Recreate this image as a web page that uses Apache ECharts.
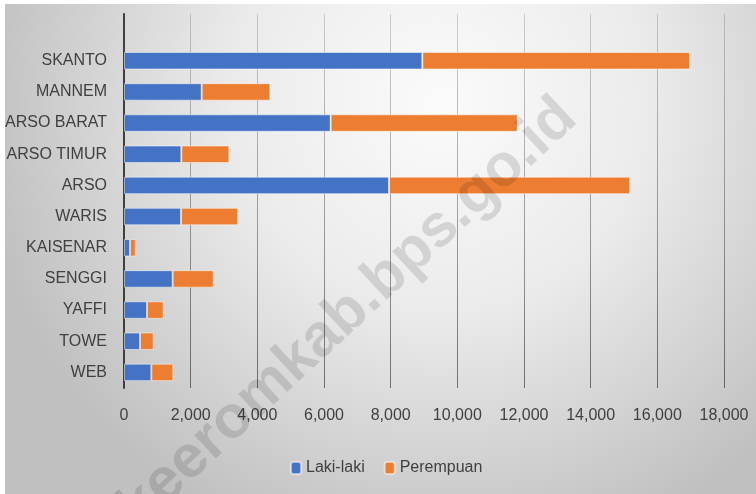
<!DOCTYPE html>
<html><head><meta charset="utf-8">
<script src="https://cdn.jsdelivr.net/npm/echarts@6/dist/echarts.min.js"></script>
<style>html,body{margin:0;padding:0;background:#fff}#c{width:756px;height:494px}</style>
</head><body><div id="c"></div>
<script>
// Categories, top to bottom as shown
const categories = ["SKANTO","MANNEM","ARSO BARAT","ARSO TIMUR","ARSO","WARIS","KAISENAR","SENGGI","YAFFI","TOWE","WEB"];
const lakiLaki  = [8950, 2330, 6200, 1720, 7950, 1710, 180, 1460, 690, 480, 820];
const perempuan = [8030, 2060, 5610, 1440, 7230, 1710, 170, 1230, 500, 410, 660];
const xTicks = {min:0, max:18000, interval:2000};

const chart = echarts.init(document.getElementById('c'), null, {renderer:'canvas'});
const font = '"Liberation Sans", Arial, sans-serif';
chart.setOption({
  animation:false,
  backgroundColor:'#ffffff',
  graphic:[
    {type:'rect', z:-10, silent:true, shape:{x:5,y:4,width:751,height:490},
     style:{fill:{type:'radial', x:0.58, y:0.2, r:0.95,
       colorStops:[{offset:0,color:'#fbfbfb'},{offset:0.45,color:'#ebebeb'},{offset:1,color:'#c0c0c0'}]}}},
    {type:'text', z:100, silent:true, x:348, y:313, rotation:Math.PI/4.2,
     style:{text:'keeromkab.bps.go.id', fill:'rgba(0,0,0,0.12)', font:'bold 60px "Liberation Sans", Arial, sans-serif', align:'center', verticalAlign:'middle'}}
  ],
  grid:{left:124, right:32, top:14, bottom:106, containLabel:false},
  legend:{left:285, top:455, itemWidth:10, itemHeight:12, itemGap:19,
    textStyle:{color:'#404040', fontSize:16, fontFamily:font},
    data:['Laki-laki','Perempuan']},
  xAxis:{type:'value', min:xTicks.min, max:xTicks.max, interval:xTicks.interval,
    axisLine:{show:false}, axisTick:{show:false},
    axisLabel:{color:'#404040', fontSize:16, fontFamily:font, margin:20,
      formatter:v=>v.toLocaleString('en-US')},
    splitLine:{show:true, lineStyle:{width:1, color:{type:'linear', x:0, y:0, x2:0, y2:1,
      colorStops:[{offset:0,color:'rgba(0,0,0,0.16)'},{offset:1,color:'rgba(0,0,0,0.5)'}]}}}},
  yAxis:{type:'category', inverse:true, data:[''].concat(categories),
    axisLine:{show:true, lineStyle:{color:'#404040', width:2}}, axisTick:{show:false},
    axisLabel:{color:'#404040', fontSize:16, fontFamily:font, margin:17}},
  series:[
    {name:'Laki-laki', type:'bar', stack:'t', barWidth:'56%', data:[null].concat(lakiLaki),
     itemStyle:{color:'#4472C4', borderColor:'rgba(255,255,255,0.5)', borderWidth:1}},
    {name:'Perempuan', type:'bar', stack:'t', barWidth:'56%', data:[null].concat(perempuan),
     itemStyle:{color:'#ED7D31', borderColor:'rgba(255,255,255,0.5)', borderWidth:1}}
  ]
});
</script></body></html>
